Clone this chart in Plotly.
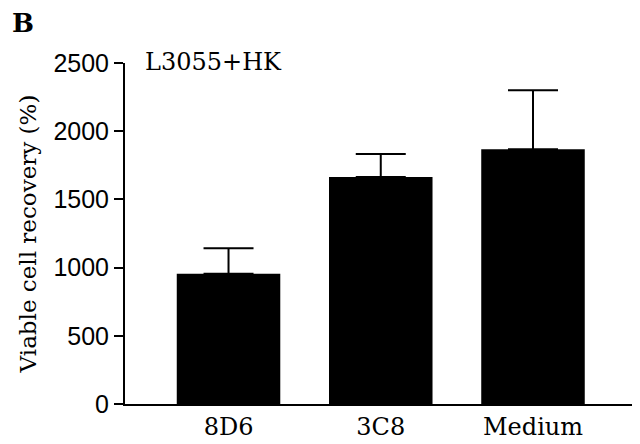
import plotly.graph_objects as go

categories = ["8D6", "3C8", "Medium"]
values = [954, 1664, 1868]
errors_up = [188, 169, 433]
y_ticks = [0, 500, 1000, 1500, 2000, 2500]

# page body has an 8px margin; the figure is sized to fit the remaining window
OFF = 8
W, H = 640 - OFF, 444 - OFF
L, R, T, B = 125 - OFF, 5, 63 - OFF, 40
pw, ph = W - L - R, H - T - B

fig = go.Figure()
fig.add_trace(go.Bar(
    x=categories, y=values, width=0.68,
    marker=dict(color="black", line=dict(width=0)),
    error_y=dict(type="data", symmetric=False, array=errors_up,
                 arrayminus=[0] * len(values), color="black", thickness=2, width=25),
))

fig.update_layout(
    width=W, height=H,
    margin=dict(l=L, r=R, t=T, b=B, autoexpand=False),
    paper_bgcolor="white", plot_bgcolor="white",
    showlegend=False,
    xaxis=dict(range=[-0.68, 2.67], showline=True, linecolor="black", linewidth=2,
               ticks="", showgrid=False, zeroline=False, automargin=False,
               tickfont=dict(family="DejaVu Serif", size=24, color="black")),
    yaxis=dict(range=[0, 2500], tickvals=y_ticks, showline=True, linecolor="black",
               linewidth=2, ticks="outside", ticklen=9, tickwidth=2, tickcolor="black",
               showgrid=False, zeroline=False, automargin=False,
               tickfont=dict(family="Liberation Sans", size=25, color="black"),
               title=dict(text="Viable cell recovery (%)",
                          font=dict(family="DejaVu Serif", size=23, color="black"),
                          standoff=10)),
)
fig.add_annotation(text="L3055+HK", xref="paper", yref="paper",
                   x=(143 - 125) / pw, y=(404 - 62) / ph, xanchor="left", yanchor="middle",
                   showarrow=False, font=dict(family="DejaVu Serif", size=24, color="black"))
fig.add_annotation(text="<b>B</b>", xref="paper", yref="paper",
                   x=(10 - 125) / pw, y=(404 - 23) / ph, xanchor="left", yanchor="middle",
                   showarrow=False, font=dict(family="DejaVu Serif", size=26, color="black"))

fig.write_html("out.html")
